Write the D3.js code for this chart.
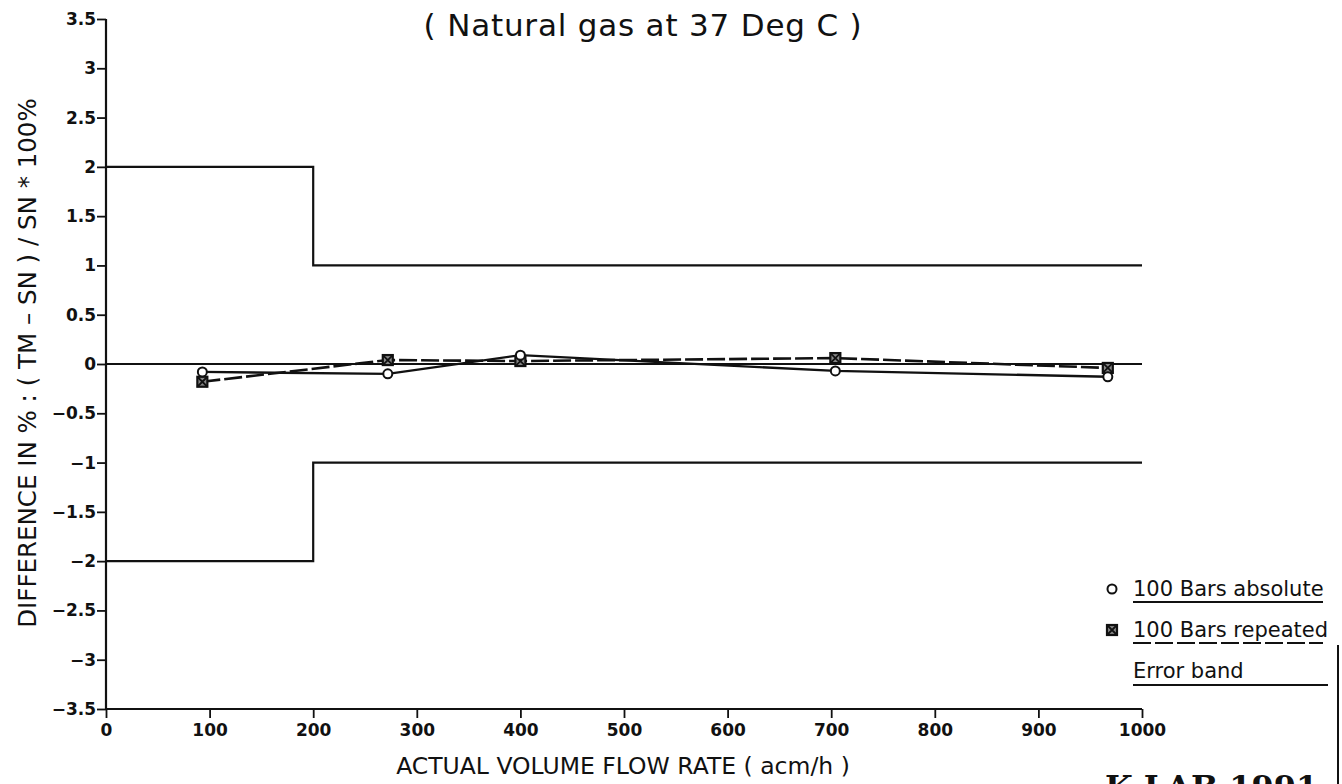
<!DOCTYPE html>
<html>
<head>
<meta charset="utf-8">
<script src="https://cdn.jsdelivr.net/npm/d3@7"></script>
<style>
  html, body { margin: 0; padding: 0; background: #fff; }
  svg { display: block; }
  text { fill: #111; }
</style>
</head>
<body>
<svg id="chart" width="1342" height="784"></svg>
<script>
// ---- data ----
const flowRates = [93, 272, 400, 704, 967];
const absoluteDiff = [-0.08, -0.10, 0.09, -0.07, -0.13];
const repeatedDiff = [-0.18, 0.04, 0.03, 0.06, -0.04];
const bandX = [0, 200, 200, 1000];
const bandUpper = [2, 2, 1, 1];
const bandLower = [-2, -2, -1, -1];
const xTicks = [0, 100, 200, 300, 400, 500, 600, 700, 800, 900, 1000];
const yTicks = [3.5, 3, 2.5, 2, 1.5, 1, 0.5, 0, -0.5, -1, -1.5, -2, -2.5, -3, -3.5];
const legendLabels = ["100 Bars absolute", "100 Bars repeated", "Error band"];
const titleText = "( Natural gas at 37 Deg C )";
const xTitle = "ACTUAL VOLUME FLOW RATE ( acm/h )";
const yTitle = "DIFFERENCE IN % : ( TM \u2013 SN ) / SN * 100%";
const stampText = "K-LAB 1991";

// ---- layout ----
const svg = d3.select("#chart");
const plotL = 106, plotR = 1142, plotT = 19, plotB = 709;
const x = d3.scaleLinear().domain([0, 1000]).range([plotL, plotR]);
const y = d3.scaleLinear().domain([-3.5, 3.5]).range([plotB, plotT]);
const ink = "#111";
const fontMain = "'DejaVu Sans', 'Liberation Sans', sans-serif";

// axes
const fmt = d => (d < 0 ? "\u2212" : "") + d3.format("")(Math.abs(d));
const xAxis = d3.axisBottom(x).tickValues(xTicks).tickSize(9).tickPadding(6).tickFormat(d3.format("d"));
const yAxis = d3.axisLeft(y).tickValues(yTicks).tickSize(9).tickPadding(1).tickFormat(fmt);

const gx = svg.append("g").attr("transform", `translate(0,${plotB})`).call(xAxis);
const gy = svg.append("g").attr("transform", `translate(${plotL},0)`).call(yAxis);
[gx, gy].forEach(g => {
  g.attr("font-size", 17).attr("font-family", fontMain).attr("font-weight", "bold");
  g.select(".domain").attr("stroke", ink).attr("stroke-width", 2.2);
  g.selectAll(".tick line").attr("stroke", ink).attr("stroke-width", 1.8);
  g.selectAll(".tick text").attr("fill", ink)
    .style("font-family", fontMain).style("font-weight", "bold").style("font-size", "17px");
});
gx.select(".domain").attr("d", `M${plotL},0H${plotR}`);
gy.select(".domain").attr("d", `M0,${plotT}V${plotB}`);

// zero line
svg.append("line")
  .attr("x1", x(0)).attr("x2", x(1000)).attr("y1", y(0)).attr("y2", y(0))
  .attr("stroke", ink).attr("stroke-width", 2.2);

// error band
const lineGen = d3.line().x(d => x(d[0])).y(d => y(d[1]));
[bandUpper, bandLower].forEach(vals => {
  svg.append("path")
    .attr("d", lineGen(bandX.map((bx, i) => [bx, vals[i]])))
    .attr("fill", "none").attr("stroke", ink).attr("stroke-width", 2.2);
});

// series lines
const absPts = flowRates.map((f, i) => [f, absoluteDiff[i]]);
const repPts = flowRates.map((f, i) => [f, repeatedDiff[i]]);
svg.append("path").attr("d", lineGen(absPts))
  .attr("fill", "none").attr("stroke", ink).attr("stroke-width", 2.4);
svg.append("path").attr("d", lineGen(repPts))
  .attr("fill", "none").attr("stroke", ink).attr("stroke-width", 2.6)
  .attr("stroke-dasharray", "18,4");

// markers
function drawSquare(g, cx, cy) {
  const s = 5;
  g.append("rect").attr("x", cx - s).attr("y", cy - s).attr("width", 2 * s).attr("height", 2 * s)
    .attr("fill", "#888").attr("stroke", ink).attr("stroke-width", 2.2);
  g.append("path").attr("d", `M${cx - s},${cy - s}L${cx + s},${cy + s}M${cx + s},${cy - s}L${cx - s},${cy + s}`)
    .attr("stroke", ink).attr("stroke-width", 1.8);
}
function drawCircle(g, cx, cy) {
  g.append("circle").attr("cx", cx).attr("cy", cy).attr("r", 4.5)
    .attr("fill", "#fff").attr("stroke", ink).attr("stroke-width", 2);
}
const mk = svg.append("g");
repPts.forEach(p => drawSquare(mk, x(p[0]), y(p[1])));
absPts.forEach(p => drawCircle(mk, x(p[0]), y(p[1])));

// title
svg.append("text").attr("x", 643).attr("y", 36).attr("text-anchor", "middle")
  .style("font-family", fontMain).style("font-size", "31px").style("letter-spacing", "0.8px")
  .text(titleText);

// axis titles
svg.append("text").attr("x", 623).attr("y", 774).attr("text-anchor", "middle")
  .style("font-family", fontMain).style("font-size", "23.5px").text(xTitle);
svg.append("text").attr("transform", `translate(36,363) rotate(-90)`).attr("text-anchor", "middle")
  .style("font-family", fontMain).style("font-size", "24.5px").text(yTitle);

// legend
const lg = svg.append("g");
const lx = 1133;
const baseY = [596, 637, 678];
drawCircle(lg, 1112, baseY[0] - 7);
drawSquare(lg, 1112, baseY[1] - 7);
legendLabels.forEach((t, i) => {
  lg.append("text").attr("x", lx).attr("y", baseY[i])
    .style("font-family", fontMain).style("font-size", "21px").text(t);
});
lg.append("line").attr("x1", lx).attr("x2", 1323).attr("y1", baseY[0] + 6).attr("y2", baseY[0] + 6)
  .attr("stroke", ink).attr("stroke-width", 2.2);
lg.append("line").attr("x1", lx).attr("x2", 1323).attr("y1", baseY[1] + 6).attr("y2", baseY[1] + 6)
  .attr("stroke", ink).attr("stroke-width", 2.2).attr("stroke-dasharray", "18,4");
lg.append("line").attr("x1", lx).attr("x2", 1328).attr("y1", baseY[2] + 7).attr("y2", baseY[2] + 7)
  .attr("stroke", ink).attr("stroke-width", 2.2);

// right border and stamp
svg.append("line").attr("x1", 1338).attr("x2", 1338).attr("y1", 645).attr("y2", 784)
  .attr("stroke", ink).attr("stroke-width", 2);
svg.append("text").attr("x", 1105).attr("y", 798)
  .style("font-family", "'DejaVu Serif', 'Liberation Serif', serif").style("font-weight", "bold")
  .style("font-size", "32px").text(stampText);
</script>
</body>
</html>
